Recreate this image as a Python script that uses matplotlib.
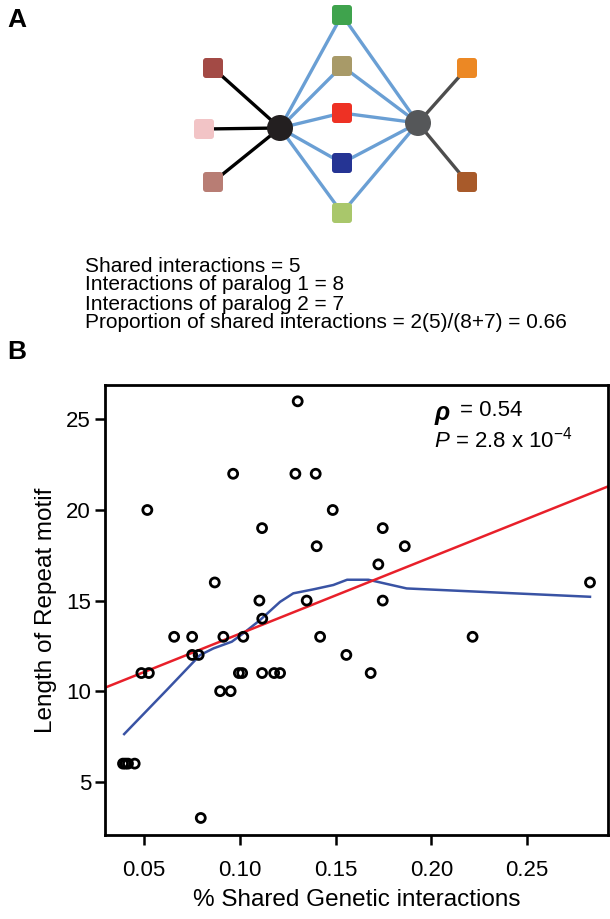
import numpy as np
import matplotlib
matplotlib.use("Agg")
import matplotlib.pyplot as plt
from matplotlib.patches import FancyBboxPatch, Circle

plt.rcParams['font.family'] = ['Liberation Sans', 'DejaVu Sans']
plt.rcParams['mathtext.fontset'] = 'custom'
plt.rcParams['mathtext.rm'] = 'Liberation Sans'
plt.rcParams['mathtext.it'] = 'Liberation Sans:italic'
plt.rcParams['mathtext.bf'] = 'Liberation Sans:bold'

# ---- panel A: toy network ----
paralog1_only = ["#a34a45", "#f2c4c6", "#b87d74"]
shared_genes = ["#3fa34d", "#a89a68", "#ee3124", "#253494", "#a9c76b"]
paralog2_only = ["#ec8824", "#a85a2a"]
summary_lines = [
    "Shared interactions = 5",
    "Interactions of paralog 1 = 8",
    "Interactions of paralog 2 = 7",
    "Proportion of shared interactions = 2(5)/(8+7) = 0.66",
]

# ---- panel B: scatter ----
shared_frac = [0.1302,
               0.0965, 0.1290, 0.1396,
               0.0517, 0.1485,
               0.1116, 0.1746,
               0.1401, 0.1861,
               0.1723,
               0.0869, 0.2828,
               0.1102, 0.1349, 0.1746,
               0.1117,
               0.0657, 0.0751, 0.0914, 0.1018, 0.1419, 0.2215,
               0.0751, 0.0785, 0.1556,
               0.0486, 0.0525, 0.0995, 0.1012, 0.1116, 0.1179, 0.1210, 0.1683,
               0.0897, 0.0952,
               0.0390, 0.0403, 0.0416, 0.0451,
               0.0796]
motif_len = [26,
             22, 22, 22,
             20, 20,
             19, 19,
             18, 18,
             17,
             16, 16,
             15, 15, 15,
             14,
             13, 13, 13, 13, 13, 13,
             12, 12, 12,
             11, 11, 11, 11, 11, 11, 11, 11,
             10, 10,
             6, 6, 6, 6,
             3]
loess_x = [0.0396, 0.0618, 0.0792, 0.0862, 0.0958, 0.1018, 0.1105, 0.1210,
           0.1279, 0.1384, 0.1488, 0.1560, 0.1671, 0.1871, 0.2828]
loess_y = [7.63, 10.06, 11.99, 12.36, 12.73, 13.19, 13.92, 14.93,
           15.40, 15.62, 15.86, 16.15, 16.15, 15.67, 15.21]
fit_intercept = 8.94
fit_slope = 42.3
x_ticks = [0.05, 0.10, 0.15, 0.20, 0.25]
y_ticks = [5, 10, 15, 20, 25]

W, H = 610, 919
fig = plt.figure(figsize=(W / 100, H / 100), dpi=100)

# network drawn in pixel coordinates of the top strip
net = fig.add_axes([0, 1 - 250 / H, 1, 250 / H])
net.set_xlim(0, W)
net.set_ylim(250, 0)
net.axis("off")

hub1 = (280, 128)
hub2 = (418, 123)
left_pos = [(213, 68), (204, 129), (213, 182)]
mid_pos = [(342, 15), (342, 66), (342, 113), (342, 163), (342, 213)]
right_pos = [(467, 68), (467, 182)]

for p in left_pos:
    net.plot([p[0], hub1[0]], [p[1], hub1[1]], color="black", lw=2.4, zorder=1)
for p in mid_pos:
    net.plot([hub1[0], p[0], hub2[0]], [hub1[1], p[1], hub2[1]],
             color="#6a9fd4", lw=2.4, zorder=1)
for p in right_pos:
    net.plot([hub2[0], p[0]], [hub2[1], p[1]], color="#4d4d4d", lw=2.4, zorder=1)

sq = 20
for pos, col in zip(left_pos + mid_pos + right_pos,
                    paralog1_only + shared_genes + paralog2_only):
    net.add_patch(FancyBboxPatch((pos[0] - sq / 2, pos[1] - sq / 2), sq, sq,
                                 boxstyle="round,pad=0,rounding_size=3",
                                 fc=col, ec="none", zorder=3))
net.add_patch(Circle(hub1, 13, fc="#231f20", ec="none", zorder=3))
net.add_patch(Circle(hub2, 13, fc="#555759", ec="none", zorder=3))

fig.text(7 / W, 1 - 20 / H, "A", fontsize=19, fontweight="bold", va="center")
fig.text(7 / W, 1 - 352 / H, "B", fontsize=19, fontweight="bold", va="center")

for i, line in enumerate(summary_lines):
    fig.text(85 / W, 1 - (266 + 19 * i) / H, line, fontsize=15, va="center")

# scatter panel
ax = fig.add_axes([105 / W, 1 - 835 / H, 503 / W, 450 / H])
ax.scatter(shared_frac, motif_len, s=42, facecolors="none",
           edgecolors="black", linewidths=2.0, zorder=3)
ax.plot(loess_x, loess_y, color="#3953a4", lw=1.8, zorder=2)
xl = np.array([0.0296, 0.2922])
ax.plot(xl, fit_intercept + fit_slope * xl, color="#e8202a", lw=1.8, zorder=2)

ax.set_xlim(0.0296, 0.2922)
ax.set_ylim(2.06, 26.9)
ax.set_xticks(x_ticks)
ax.set_xticklabels(["%.2f" % v for v in x_ticks])
ax.set_yticks(y_ticks)
for s in ax.spines.values():
    s.set_linewidth(2.0)
ax.tick_params(axis="x", length=7, width=1.8, pad=11, labelsize=16)
ax.tick_params(axis="y", length=7, width=1.8, pad=3, labelsize=16)
ax.set_xlabel("% Shared Genetic interactions", fontsize=17.5, labelpad=6)
ax.set_ylabel("Length of Repeat motif", fontsize=17.5, labelpad=7)

ax.text(0.655, 0.938, "\u03c1", transform=ax.transAxes, fontsize=18,
        fontweight="bold", fontstyle="italic", ha="left", va="center")
ax.text(0.705, 0.943, "= 0.54", transform=ax.transAxes, fontsize=16,
        ha="left", va="center")
ax.text(0.655, 0.878, r"$P$ = 2.8 x 10$^{-4}$", transform=ax.transAxes,
        fontsize=16, ha="left", va="center")

fig.savefig("out.png", dpi=100)
